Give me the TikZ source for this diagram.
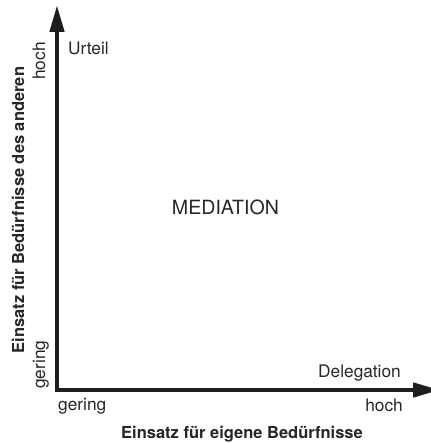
\documentclass[tikz,border=0pt]{standalone}
\usepackage{fontspec}
\setmainfont{TeX Gyre Heros}
\usetikzlibrary{arrows.meta}
\definecolor{ink}{HTML}{1E1C1C}
\definecolor{txt}{HTML}{262626}
\tikzset{
  axis/.style={draw=ink, line width=4.5pt, line join=miter,
    arrows={Triangle[length=27pt,width=14pt]-Triangle[length=27pt,width=14pt]}},
  lbl/.style={inner sep=0pt, text=txt, font=\fontsize{17.3}{20}\selectfont},
  big/.style={inner sep=0pt, text=txt, font=\fontsize{19.6}{23}\selectfont},
  ttl/.style={inner sep=0pt, text=txt, font=\bfseries\fontsize{16.5}{20}\selectfont}
}
\begin{document}
\begin{tikzpicture}[x=1pt,y=1pt]
\useasboundingbox (0,0) rectangle (430,443);
\coordinate (ytip) at (57,438);
\coordinate (origin) at (57,53);
\coordinate (xtip) at (440,53);
\draw[axis] (ytip) -- (origin) -- (xtip);
\node[lbl, anchor=base west] (urteil) at (68,388) {Urteil};
\node[big, anchor=base] (med) at (225.5,228) {MEDIATION};
\node[lbl, anchor=base east] (deleg) at (401,65) {Delegation};
\node[lbl, anchor=base west] (xlow) at (58,32) {gering};
\node[lbl, anchor=base east] (xhigh) at (403,31) {hoch};
\node[lbl, anchor=base west, rotate=90] (yhigh) at (45,363) {hoch};
\node[lbl, anchor=base west, rotate=90] (ylow) at (45,54) {gering};
\node[ttl, anchor=base, rotate=90] (ytitle) at (24,233) {Einsatz für Bedürfnisse des anderen};
\node[ttl, anchor=base] (xtitle) at (242,5) {Einsatz für eigene Bedürfnisse};
\end{tikzpicture}
\end{document}
